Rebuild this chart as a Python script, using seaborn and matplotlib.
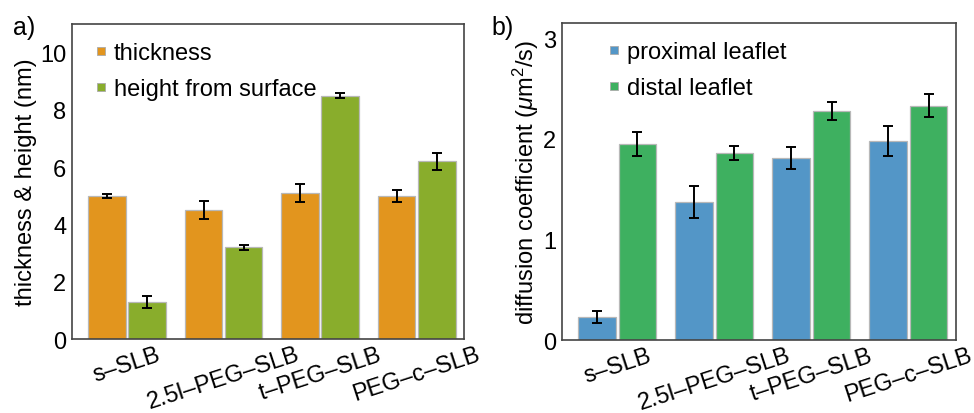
import pandas as pd
import matplotlib
matplotlib.use("Agg")
import matplotlib.pyplot as plt
from matplotlib.lines import Line2D
import seaborn as sns


# Data
samples = ['s–SLB', '2.5l–PEG–SLB', 't–PEG–SLB', 'PEG–c–SLB']

thickness = [5.0, 4.5, 5.1, 5.0]
thickness_err = [0.08, 0.31, 0.31, 0.2]
height = [1.3, 3.2, 8.5, 6.2]
height_err = [0.2, 0.1, 0.09, 0.3]

proximal = [0.23, 1.37, 1.81, 1.98]
proximal_err = [0.06, 0.16, 0.11, 0.15]
distal = [1.95, 1.86, 2.28, 2.33]
distal_err = [0.12, 0.07, 0.09, 0.11]

sns.set_style("white")
plt.rcParams['font.family'] = ['Liberation Sans', 'DejaVu Sans']
plt.rcParams['mathtext.fontset'] = 'custom'
plt.rcParams['mathtext.rm'] = 'Liberation Sans'
plt.rcParams['mathtext.it'] = 'Liberation Sans:italic'
plt.rcParams['font.size'] = 17
plt.rcParams['text.color'] = 'black'
plt.rcParams['axes.labelcolor'] = 'black'
plt.rcParams['xtick.color'] = 'black'
plt.rcParams['ytick.color'] = 'black'

fig = plt.figure(figsize=(9.74, 4.14), dpi=100)
ax_a = fig.add_axes([0.0739, 0.1787, 0.4025, 0.7609])
ax_b = fig.add_axes([0.577, 0.1763, 0.4045, 0.7657])


def panel(ax, first, first_err, second, second_err, names, colors, ylim, yticks, ylabel):
    df = pd.DataFrame({
        'sample': samples * 2,
        'value': first + second,
        'err': first_err + second_err,
        'series': [names[0]] * 4 + [names[1]] * 4,
    })
    sns.barplot(data=df, x='sample', y='value', hue='series', palette=colors,
                saturation=1, errorbar=None, width=0.83, gap=0.06,
                edgecolor='#b8b8b8', linewidth=0.9, legend=False, ax=ax)

    # error bars on top of the seaborn bars
    for patch, (_, row) in zip(ax.patches, df.iterrows()):
        xc = patch.get_x() + patch.get_width() / 2
        ax.errorbar(xc, patch.get_height(), yerr=row['err'], fmt='none',
                    ecolor='black', elinewidth=1.4, capsize=3.5, capthick=1.4)

    ax.set_xlim(-0.57, 3.49)
    ax.set_ylim(*ylim)
    ax.set_yticks(yticks)
    ax.set_xlabel('')
    ax.set_ylabel(ylabel, fontsize=17, labelpad=2)
    ax.tick_params(axis='x', length=0, pad=3, labelsize=17)
    ax.tick_params(axis='y', length=3, width=0.8, color='#777777', pad=1, labelsize=17)
    for lab in ax.get_xticklabels():
        lab.set_rotation(18)
        lab.set_ha('center')
    for sp in ax.spines.values():
        sp.set_color('#444444')
        sp.set_linewidth(1.2)

    handles = [Line2D([], [], marker='s', linestyle='none', markersize=6,
                      markerfacecolor=c, markeredgecolor='#aaaaaa', markeredgewidth=0.6)
               for c in colors]
    return handles


h_a = panel(ax_a, thickness, thickness_err, height, height_err,
            ['thickness', 'height from surface'], ['#e2951e', '#89ad2c'],
            (0, 11), [0, 2, 4, 6, 8, 10], 'thickness & height (nm)')
ax_a.legend(h_a, ['thickness', 'height from surface'], loc='upper left',
            bbox_to_anchor=(0.007, 1.01), frameon=False, fontsize=17,
            handlelength=0.4, handletextpad=0.35, labelspacing=0.6)

h_b = panel(ax_b, proximal, proximal_err, distal, distal_err,
            ['proximal leaflet', 'distal leaflet'], ['#5396c7', '#3eb060'],
            (0, 3.15), [0, 1, 2, 3], r'diffusion coefficient ($\mu$m$^2$/s)')
ax_b.legend(h_b, ['proximal leaflet', 'distal leaflet'], loc='upper left',
            bbox_to_anchor=(0.067, 1.01), frameon=False, fontsize=17,
            handlelength=0.4, handletextpad=0.35, labelspacing=0.6)

fig.text(0.013, 0.962, 'a)', fontsize=18, va='top')
fig.text(0.505, 0.962, 'b)', fontsize=18, va='top')

fig.savefig('out.png', dpi=100)
